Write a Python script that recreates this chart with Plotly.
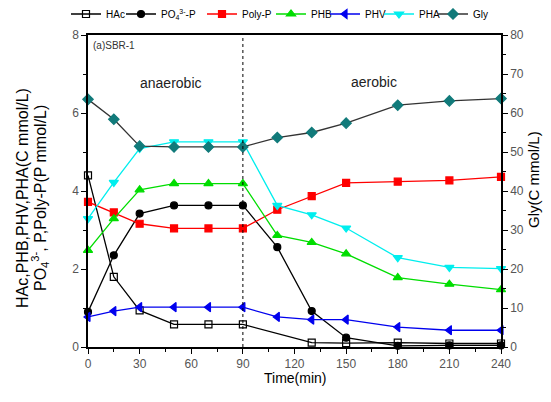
import plotly.graph_objects as go

time = [0, 15, 30, 50, 70, 90, 110, 130, 150, 180, 210, 240]
hac = [4.4, 1.8, 0.94, 0.58, 0.58, 0.58, None, 0.11, 0.10, 0.11, 0.09, 0.09]
po4 = [0.9, 2.35, 3.42, 3.63, 3.63, 3.63, 2.56, 0.92, 0.24, 0.03, 0.04, 0.04]
polyp = [3.72, 3.45, 3.16, 3.04, 3.04, 3.04, 3.52, 3.87, 4.21, 4.24, 4.27, 4.36]
phb = [2.48, 3.29, 4.03, 4.19, 4.19, 4.19, 2.86, 2.68, 2.39, 1.78, 1.61, 1.47]
phv = [0.77, 0.92, 1.02, 1.02, 1.02, 1.02, 0.77, 0.70, 0.70, 0.51, 0.43, 0.43]
pha = [3.29, 4.22, 5.09, 5.26, 5.26, 5.26, 3.63, 3.39, 3.05, 2.29, 2.04, 2.01]
gly = [63.5, 58.4, 51.5, 51.3, 51.3, 51.3, 53.7, 55.0, 57.4, 62.0, 63.1, 63.7]

x_ticks = [0, 30, 60, 90, 120, 150, 180, 210, 240]
y_ticks = [0, 2, 4, 6, 8]
y2_ticks = [0, 10, 20, 30, 40, 50, 60, 70, 80]
phase_switch = 90

FONT = "Arial, Liberation Sans, sans-serif"

# page body margin offsets the figure by 8px
OFF = 8
W, H = 551 - OFF, 402 - OFF
ML, MT = 88 - OFF, 35 - OFF
PW, PH = 413, 312
MR = W - ML - PW
MB = H - MT - PH


def px_x(wx):
    return (wx - OFF - ML) / PW


def px_y(wy):
    return 1 - (wy - OFF - MT) / PH


series = [
    ("HAc", hac, "black", "black", "square-open", 7, "y", 66),
    ("PO<sub>4</sub><sup>3-</sup>-P", po4, "black", "black", "circle", 7, "y", 121),
    ("Poly-P", polyp, "red", "red", "square", 7, "y", 202),
    ("PHB", phb, "#00dd00", "#00dd00", "triangle-up", 8, "y", 271),
    ("PHV", phv, "#0000ee", "#0000ee", "triangle-left", 8, "y", 325),
    ("PHA", pha, "#00eeee", "#00eeee", "triangle-down", 8, "y", 379),
    ("Gly", gly, "#333333", "#117a7a", "diamond", 8, "y2", 433),
]

fig = go.Figure()
legends = {}
for i, (name, vals, lc, mc, sym, size, ax, lx) in enumerate(series):
    key = "legend" if i == 0 else f"legend{i + 1}"
    fig.add_trace(go.Scatter(
        x=time, y=vals, name=name, yaxis=ax, mode="lines+markers",
        connectgaps=True, cliponaxis=False, legend=key,
        line=dict(color=lc, width=1.3),
        marker=dict(symbol=sym, size=size, color=mc,
                    line=dict(color=mc, width=1.2)),
    ))
    legends[key] = dict(
        orientation="h", x=px_x(lx), xanchor="left",
        y=px_y(14), yanchor="middle",
        font=dict(size=10, family=FONT, color="black"),
        bgcolor="rgba(0,0,0,0)", itemwidth=30,
    )

fig.add_shape(type="line", xref="x", yref="y", x0=phase_switch, x1=phase_switch,
              y0=0, y1=8, line=dict(color="black", width=1, dash="dot"))

axis_common = dict(showline=True, linecolor="black", linewidth=1.5,
                   ticks="outside", ticklen=5, tickwidth=1.2, tickcolor="black",
                   showgrid=False, zeroline=False, automargin=False,
                   tickfont=dict(family=FONT, size=12, color="#555555"))

fig.update_layout(
    width=W, height=H,
    margin=dict(l=ML, r=MR, t=MT, b=MB, autoexpand=False),
    paper_bgcolor="white", plot_bgcolor="white",
    font=dict(family=FONT, size=12, color="black"),
    xaxis=dict(range=[0, 240], tickvals=x_ticks, mirror=True,
               minor=dict(dtick=15, ticks="outside", ticklen=3, tickcolor="black"),
               **axis_common),
    yaxis=dict(range=[0, 8], tickvals=y_ticks,
               minor=dict(dtick=1, ticks="outside", ticklen=3, tickcolor="black"),
               **axis_common),
    yaxis2=dict(range=[0, 80], tickvals=y2_ticks, overlaying="y", side="right",
                minor=dict(dtick=5, ticks="outside", ticklen=3, tickcolor="black"),
                **axis_common),
    showlegend=True,
    annotations=[
        dict(text="(a)SBR-1", xref="paper", yref="paper", x=px_x(91), y=px_y(38),
             xanchor="left", yanchor="top", showarrow=False,
             font=dict(size=10, color="#333333")),
        dict(text="anaerobic", xref="x", yref="y", x=48, y=6.77,
             showarrow=False, font=dict(size=14, color="#222222")),
        dict(text="aerobic", xref="x", yref="y", x=166, y=6.79,
             showarrow=False, font=dict(size=14, color="#222222")),
        dict(text="Time(min)", xref="paper", yref="paper", x=px_x(295), y=px_y(378),
             xanchor="center", yanchor="middle", showarrow=False,
             font=dict(size=14, color="black")),
        dict(text="HAc,PHB,PHV,PHA(C mmol/L)", xref="paper", yref="paper",
             x=px_x(22), y=px_y(198), textangle=-90,
             xanchor="center", yanchor="middle", showarrow=False,
             font=dict(size=16, color="black")),
        dict(text="PO<sub>4</sub><sup>3-</sup>, P,Poly-P(P mmol/L)", xref="paper", yref="paper",
             x=px_x(40), y=px_y(198), textangle=-90,
             xanchor="center", yanchor="middle", showarrow=False,
             font=dict(size=16, color="black")),
        dict(text="Gly(C mmol/L)", xref="paper", yref="paper",
             x=px_x(533), y=px_y(180), textangle=-90,
             xanchor="center", yanchor="middle", showarrow=False,
             font=dict(size=15, color="black")),
    ],
    **legends,
)

fig.write_html("out.html")
